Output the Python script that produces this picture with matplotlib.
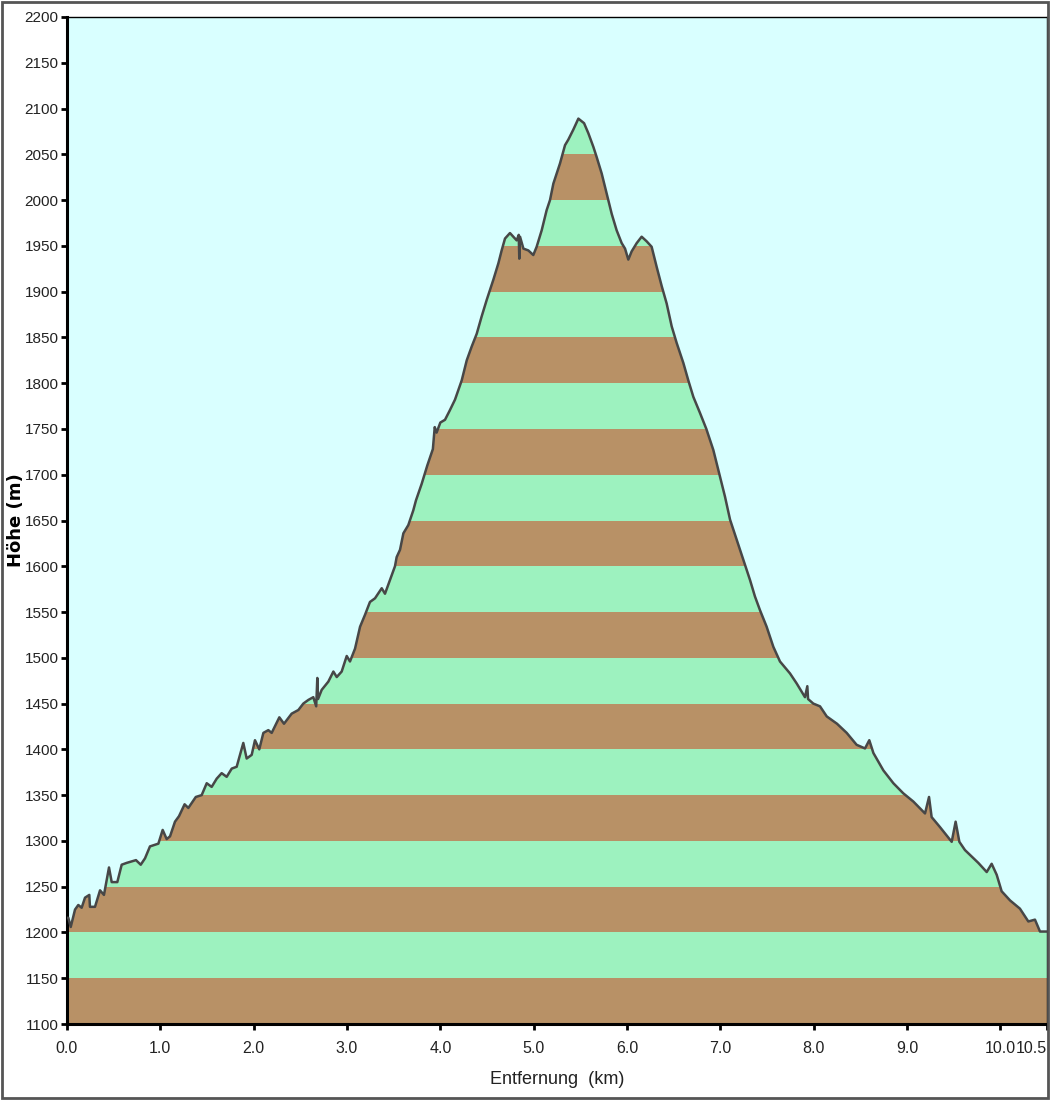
import matplotlib.pyplot as plt
import matplotlib.patches as mpatches
import numpy as np

# Höhenprofil: Entfernung (km) / Höhe (m)
dist_km = [0.0, 0.014, 0.04, 0.086, 0.121, 0.157, 0.193, 0.239, 0.246, 0.30, 0.354, 0.396,
           0.45, 0.479, 0.539, 0.586, 0.64, 0.739, 0.79, 0.836, 0.889, 0.979, 1.025, 1.068,
           1.104, 1.157, 1.2, 1.26, 1.3, 1.38, 1.443, 1.497, 1.55, 1.604, 1.657, 1.711,
           1.765, 1.818, 1.889, 1.925, 1.979, 2.014, 2.06, 2.104, 2.157, 2.193, 2.275, 2.325,
           2.407, 2.479, 2.532, 2.586, 2.639, 2.67, 2.682, 2.69, 2.729, 2.80, 2.854, 2.89,
           2.943, 2.997, 3.032, 3.086, 3.14, 3.193, 3.246, 3.30, 3.372, 3.407, 3.461, 3.514,
           3.532, 3.568, 3.604, 3.657, 3.71, 3.739, 3.80, 3.86, 3.92, 3.94, 3.96, 4.0,
           4.05, 4.1, 4.157, 4.229, 4.283, 4.336, 4.39, 4.443, 4.497, 4.568, 4.622, 4.657,
           4.693, 4.746, 4.782, 4.818, 4.84, 4.846, 4.854, 4.89, 4.943, 4.996, 5.032, 5.086,
           5.139, 5.175, 5.211, 5.282, 5.336, 5.371, 5.425, 5.479, 5.504, 5.54, 5.586, 5.64,
           5.675, 5.729, 5.782, 5.836, 5.889, 5.943, 5.979, 6.014, 6.05, 6.104, 6.157, 6.21,
           6.264, 6.318, 6.372, 6.425, 6.479, 6.532, 6.604, 6.657, 6.711, 6.78, 6.85, 6.925,
           6.996, 7.05, 7.104, 7.175, 7.246, 7.318, 7.371, 7.425, 7.496, 7.568, 7.639, 7.746,
           7.818, 7.907, 7.932, 7.94, 7.996, 8.068, 8.14, 8.25, 8.354, 8.46, 8.55, 8.596,
           8.64, 8.747, 8.854, 8.96, 9.068, 9.193, 9.236, 9.264, 9.354, 9.479, 9.521, 9.561,
           9.621, 9.693, 9.764, 9.854, 9.907, 9.961, 10.014, 10.104, 10.21, 10.3, 10.371,
           10.425, 10.5]
hoehe_m = [1216, 1216, 1206, 1225, 1230, 1227, 1238, 1241, 1228, 1228, 1246, 1241,
           1271, 1255, 1255, 1274, 1276, 1279, 1274, 1281, 1294, 1297, 1312, 1302,
           1305, 1321, 1327, 1340, 1336, 1348, 1350, 1363, 1359, 1368, 1374, 1370,
           1379, 1381, 1407, 1390, 1394, 1410, 1400, 1418, 1421, 1418, 1435, 1428,
           1439, 1443, 1450, 1454, 1457, 1447, 1478, 1455, 1465, 1474, 1485, 1479,
           1485, 1502, 1496, 1510, 1534, 1547, 1561, 1565, 1576, 1570, 1585, 1600,
           1610, 1618, 1636, 1645, 1661, 1672, 1690, 1710, 1728, 1752, 1746, 1757,
           1760, 1770, 1782, 1803, 1825, 1840, 1854, 1873, 1891, 1913, 1931, 1945,
           1958, 1964, 1960, 1956, 1962, 1936, 1960, 1947, 1945, 1940, 1949, 1967,
           1989, 2000, 2018, 2040, 2060, 2066, 2077, 2089, 2087, 2084, 2073, 2058,
           2047, 2029, 2007, 1985, 1967, 1953, 1947, 1935, 1944, 1953, 1960, 1955,
           1949, 1927, 1906, 1887, 1862, 1844, 1822, 1803, 1785, 1768, 1750, 1727,
           1698, 1676, 1651, 1629, 1607, 1585, 1567, 1552, 1534, 1512, 1496, 1483,
           1472, 1457, 1469, 1455, 1450, 1447, 1436, 1428, 1418, 1405, 1401, 1410,
           1396, 1377, 1363, 1352, 1343, 1330, 1348, 1326, 1315, 1299, 1321, 1299,
           1290, 1283, 1276, 1266, 1275, 1263, 1245, 1235, 1226, 1212, 1214,
           1201, 1201]

x_ticks = [0, 1, 2, 3, 4, 5, 6, 7, 8, 9, 10, 10.5]
x_labels = ["0.0", "1.0", "2.0", "3.0", "4.0", "5.0", "6.0", "7.0", "8.0", "9.0", "10.0", "10.5"]
y_ticks = list(range(1100, 2201, 50))

braun = '#b89166'
gruen = '#9df2bf'
himmel = '#d9ffff'

fnt = ['Liberation Sans', 'DejaVu Sans']

fig = plt.figure(figsize=(10.5, 11), dpi=100)
ax = fig.add_axes([67/1050, 1 - 1024/1100, (1047 - 67)/1050, (1024 - 17)/1100])
ax.set_facecolor(himmel)

x = np.array(dist_km)
y = np.array(hoehe_m)

# Polygon des Profils als Clip-Pfad für die Höhenbänder
poly = np.column_stack([np.r_[x, x[-1], x[0]], np.r_[y, 1100, 1100]])
profil = mpatches.Polygon(poly, closed=True, facecolor='none', edgecolor='none')
ax.add_patch(profil)

for i, lo in enumerate(range(1100, 2200, 50)):
    farbe = braun if i % 2 == 0 else gruen
    band = ax.axhspan(lo, lo + 50, color=farbe, lw=0, zorder=1)
    band.set_clip_path(profil)

ax.plot(x, y, color='#474747', lw=1.8, zorder=3)

ax.set_xlim(0, 10.5)
ax.set_ylim(1100, 2200)
ax.set_xticks(x_ticks)
ax.set_xticklabels(x_labels, family=fnt, fontsize=11.5, color='#222222')
ax.set_yticks(y_ticks)
ax.set_yticklabels([str(v) for v in y_ticks], family=fnt, fontsize=11, color='#222222')
ax.tick_params(length=4, width=2, color='black')
ax.tick_params(axis='x', pad=8)
ax.tick_params(axis='y', pad=2)

# letztes Label (10.5) rechtsbündig, damit es nicht abgeschnitten wird
lbls = ax.get_xticklabels()
lbls[-1].set_horizontalalignment('right')

for s in ['left', 'bottom']:
    ax.spines[s].set_linewidth(2.2)
for s in ['top', 'right']:
    ax.spines[s].set_linewidth(1)

ax.set_xlabel("Entfernung  (km)", family=fnt, fontsize=13, color='#222222')
ax.xaxis.set_label_coords(0.5, -47/1007)
ax.set_ylabel("Höhe (m)", family='DejaVu Sans', fontsize=13, fontweight='bold')
ax.yaxis.set_label_coords(-42/980, 0.5)

# grauer Rahmen um das ganze Bild
fig.patches.append(mpatches.Rectangle((0.002, 0.002), 0.996, 0.996, transform=fig.transFigure,
                                      fill=False, edgecolor='#555555', lw=2))

fig.savefig('out.png', dpi=100, facecolor='white')
